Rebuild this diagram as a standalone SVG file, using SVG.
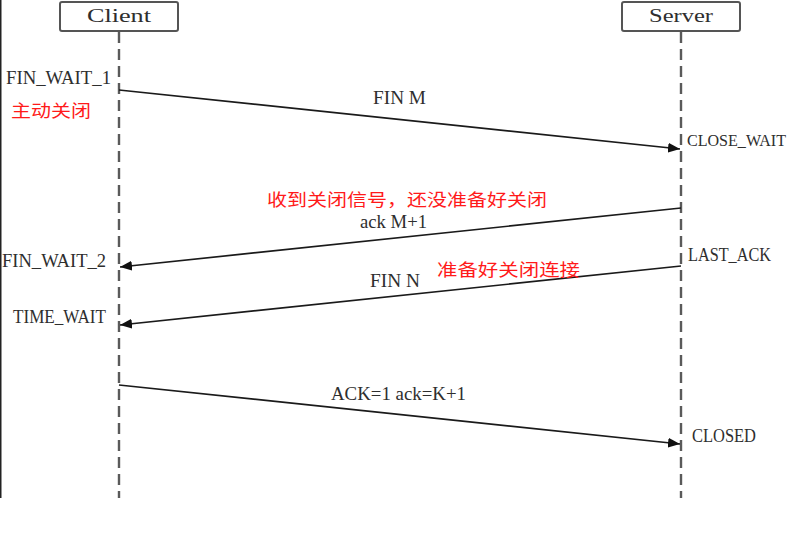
<svg xmlns="http://www.w3.org/2000/svg" width="791" height="543" viewBox="0 0 791 543">
<defs>
<marker id="ah" viewBox="0 0 12 10" refX="12" refY="5" markerWidth="12" markerHeight="10" markerUnits="userSpaceOnUse" orient="auto">
<path d="M0,0 L12,5 L0,10 Z" fill="#111"/>
</marker>
<style>
.box{fill:#fff;stroke:#555;stroke-width:2}
.life{stroke:#5a5a5a;stroke-width:2.4;stroke-dasharray:11 6;fill:none}
.msg{stroke:#1a1a1a;stroke-width:1.7;fill:none}
.lbl{font-family:"Liberation Serif","Noto Sans CJK SC",serif;font-size:19px;fill:#2e2e2e}
.red{font-family:"Noto Sans CJK SC",sans-serif;font-size:17.5px;fill:#ff1a1a}
</style>
</defs>
<rect x="0" y="0" width="791" height="543" fill="#fff"/>
<line x1="0.75" y1="0" x2="0.75" y2="498" stroke="#222" stroke-width="1.5"/>
<g id="client">
<rect class="box" x="60" y="2" width="118" height="29" rx="2"/>
<text class="lbl" x="119" y="22" text-anchor="middle" textLength="64" lengthAdjust="spacingAndGlyphs">Client</text>
<line class="life" x1="119" y1="32" x2="119" y2="498"/>
</g>
<g id="server">
<rect class="box" x="622" y="2" width="118" height="29" rx="2"/>
<text class="lbl" x="681" y="22" text-anchor="middle" textLength="64" lengthAdjust="spacingAndGlyphs">Server</text>
<line class="life" x1="681" y1="32" x2="681" y2="498"/>
</g>
<g id="connectors">
<line class="msg" x1="119" y1="90" x2="680" y2="149" marker-end="url(#ah)"/>
<line class="msg" x1="681" y1="208" x2="120" y2="267" marker-end="url(#ah)"/>
<line class="msg" x1="681" y1="266" x2="120" y2="325" marker-end="url(#ah)"/>
<line class="msg" x1="119" y1="385" x2="680" y2="444" marker-end="url(#ah)"/>
<text class="lbl" x="373" y="104" textLength="53" lengthAdjust="spacingAndGlyphs">FIN M</text>
<text class="lbl" x="360" y="228" textLength="67" lengthAdjust="spacingAndGlyphs">ack M+1</text>
<text class="lbl" x="370" y="287" textLength="50" lengthAdjust="spacingAndGlyphs">FIN N</text>
<text class="lbl" x="331" y="400" textLength="135" lengthAdjust="spacingAndGlyphs">ACK=1 ack=K+1</text>
</g>
<g id="states">
<text class="lbl" x="6" y="84" textLength="105" lengthAdjust="spacingAndGlyphs">FIN_WAIT_1</text>
<text class="lbl" x="687" y="146" font-size="16" textLength="99" lengthAdjust="spacingAndGlyphs" style="font-size:16px">CLOSE_WAIT</text>
<text class="lbl" x="688" y="261" textLength="83" lengthAdjust="spacingAndGlyphs">LAST_ACK</text>
<text class="lbl" x="2" y="267" textLength="104" lengthAdjust="spacingAndGlyphs">FIN_WAIT_2</text>
<text class="lbl" x="13" y="323" textLength="93" lengthAdjust="spacingAndGlyphs">TIME_WAIT</text>
<text class="lbl" x="692" y="442" textLength="64" lengthAdjust="spacingAndGlyphs">CLOSED</text>
</g>
<g id="notes">
<text class="red" x="11" y="117" textLength="80" lengthAdjust="spacingAndGlyphs">主动关闭</text>
<text class="red" x="267" y="206" textLength="280" lengthAdjust="spacingAndGlyphs">收到关闭信号，还没准备好关闭</text>
<text class="red" x="437" y="276" textLength="143" lengthAdjust="spacingAndGlyphs">准备好关闭连接</text>
</g>
</svg>
